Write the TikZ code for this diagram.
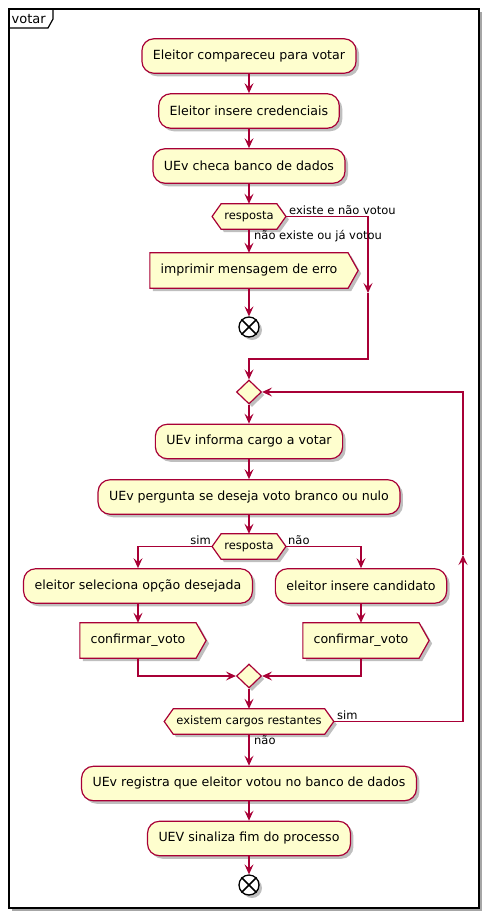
\documentclass[tikz,border=0pt]{standalone}
\usepackage{fontspec}
\setmainfont{DejaVu Sans}
\usetikzlibrary{arrows.meta,shadows,backgrounds,shapes.geometric}
\definecolor{pborder}{HTML}{A80036}
\definecolor{pfill}{HTML}{FEFECE}
\newcommand\mainfs{\fontsize{12.6}{15}\selectfont}
\newcommand\smallfs{\fontsize{11.5}{14}\selectfont}
\newcommand\titlefs{\fontsize{13}{15}\selectfont}
\tikzset{
  shd/.style={drop shadow={shadow xshift=3pt, shadow yshift=-3pt, opacity=0.25, fill=black}},
  act/.style={draw=pborder, fill=pfill, line width=1.2pt, rounded corners=12pt,
    minimum height=34.5pt, inner xsep=11pt, inner ysep=0pt, font=\mainfs, text=black, shd},
  hexa/.style={font=\smallfs, inner xsep=12pt, inner ysep=0pt, minimum height=25pt, text=black},
  sig/.style={font=\mainfs, inner xsep=10.5pt, inner ysep=0pt, minimum height=35pt, text=black},
  shapest/.style={draw=pborder, fill=pfill, line width=1.2pt, shd},
  dia/.style={diamond, draw=pborder, fill=pfill, line width=1.2pt, minimum width=25pt,
    minimum height=24pt, inner sep=0pt, shd},
  endn/.style={circle, draw=black, fill=white, line width=1.3pt, minimum size=20pt, inner sep=0pt, shd},
  cross/.style={draw=black, line width=1.5pt},
  conn/.style={draw=pborder, line width=1.2pt},
  arr/.style={conn, -{Stealth[length=10pt, width=9pt, inset=4pt]}},
  lbl/.style={font=\smallfs, text=black, inner sep=0pt},
}
\newcommand\hexout[2][9pt]{%
  \begin{scope}[on background layer]
    \draw[shapest] (#2.west) -- ([xshift=#1]#2.north west) -- ([xshift=-#1]#2.north east)
      -- (#2.east) -- ([xshift=-#1]#2.south east) -- ([xshift=#1]#2.south west) -- cycle;
  \end{scope}}
\newcommand\sigout[2][10pt]{%
  \begin{scope}[on background layer]
    \draw[shapest] (#2.north west) -- (#2.north east) -- ([xshift=#1]#2.east)
      -- (#2.south east) -- (#2.south west) -- cycle;
  \end{scope}}
\newcommand\crossout[1]{\draw[cross] (#1.45) -- (#1.225) (#1.135) -- (#1.315);}
\begin{document}
\begin{tikzpicture}[x=1pt,y=-1pt]
\useasboundingbox (0,0) rectangle (494,924);
\begin{scope}[on background layer]
  \fill[white] (0,0) rectangle (494,924);
  \draw[line width=1.8pt, fill=white, drop shadow={shadow xshift=3pt, shadow yshift=-3pt, opacity=0.35, fill=black}] (9,9) rectangle (479,908);
\end{scope}
\draw[line width=1.2pt] (9,28) -- (48,28) -- (53,19) -- (53,9);
\node[anchor=base west, font=\titlefs, inner sep=0pt] (title) at (11.5,23.5) {votar};

\node[act] (a1) at (249,56) {Eleitor compareceu para votar};
\node[act] (a2) at (249,111) {Eleitor insere credenciais};
\node[act] (a3) at (249,166) {UEv checa banco de dados};
\node[hexa] (h1) at (249,216.5) {resposta}; \hexout{h1}
\node[sig] (imp) at (249,270.5) {imprimir mensagem de erro}; \sigout{imp}
\node[endn] (e1) at (249,327) {}; \crossout{e1}
\node[dia] (d1) at (249,392) {};
\node[act] (a4) at (249,441.5) {UEv informa cargo a votar};
\node[act] (a5) at (249,497) {UEv pergunta se deseja voto branco ou nulo};
\node[hexa] (h2) at (249,546.5) {resposta}; \hexout{h2}
\node[act] (bl) at (138,586) {eleitor seleciona opção desejada};
\node[act] (br) at (361,586) {eleitor insere candidato};
\node[sig] (cl) at (138,640.5) {confirmar\_voto}; \sigout{cl}
\node[sig] (cr) at (361,640.5) {confirmar\_voto}; \sigout{cr}
\node[dia] (d2) at (249,676) {};
\node[hexa] (h3) at (249,721.5) {existem cargos restantes}; \hexout{h3}
\node[act] (a6) at (249,783.5) {UEv registra que eleitor votou no banco de dados};
\node[act] (a7) at (249,838.5) {UEV sinaliza fim do processo};
\node[endn] (e2) at (249,885) {}; \crossout{e2}

\coordinate (c1) at (368,293);
\coordinate (j1) at (249,359);
\coordinate (c4) at (463,555);

\draw[arr] (a1.south) -- (a2.north);
\draw[arr] (a2.south) -- (a3.north);
\draw[arr] (a3.south) -- (h1.north);
\draw[arr] (h1.south) -- (imp.north);
\draw[arr] (h1.east) -| (c1);
\draw[arr] (c1) |- (j1) -- (d1.north);
\draw[arr] (imp.south) -- (e1.north);
\draw[arr] (d1.south) -- (a4.north);
\draw[arr] (a4.south) -- (a5.north);
\draw[arr] (a5.south) -- (h2.north);
\draw[arr] (h2.west) -| (bl.north);
\draw[arr] (h2.east) -| (br.north);
\draw[arr] (bl.south) -- (cl.north);
\draw[arr] (br.south) -- (cr.north);
\draw[arr] (cl.south) |- (d2.west);
\draw[arr] (cr.south) |- (d2.east);
\draw[arr] (d2.south) -- (h3.north);
\draw[arr] (h3.east) -| (c4);
\draw[arr] (c4) |- (d1.east);
\draw[arr] (h3.south) -- (a6.north);
\draw[arr] (a6.south) -- (a7.north);
\draw[arr] (a7.south) -- (e2.north);

\node[lbl, anchor=base west] (l1) at (289,214) {existe e não votou};
\node[lbl, anchor=base west] (l2) at (254,239.5) {não existe ou já votou};
\node[lbl, anchor=base east] (l3) at (211,544) {sim};
\node[lbl, anchor=base west] (l4) at (288,544) {não};
\node[lbl, anchor=base west] (l5) at (337,719) {sim};
\node[lbl, anchor=base west] (l6) at (254,744) {não};
\end{tikzpicture}
\end{document}
